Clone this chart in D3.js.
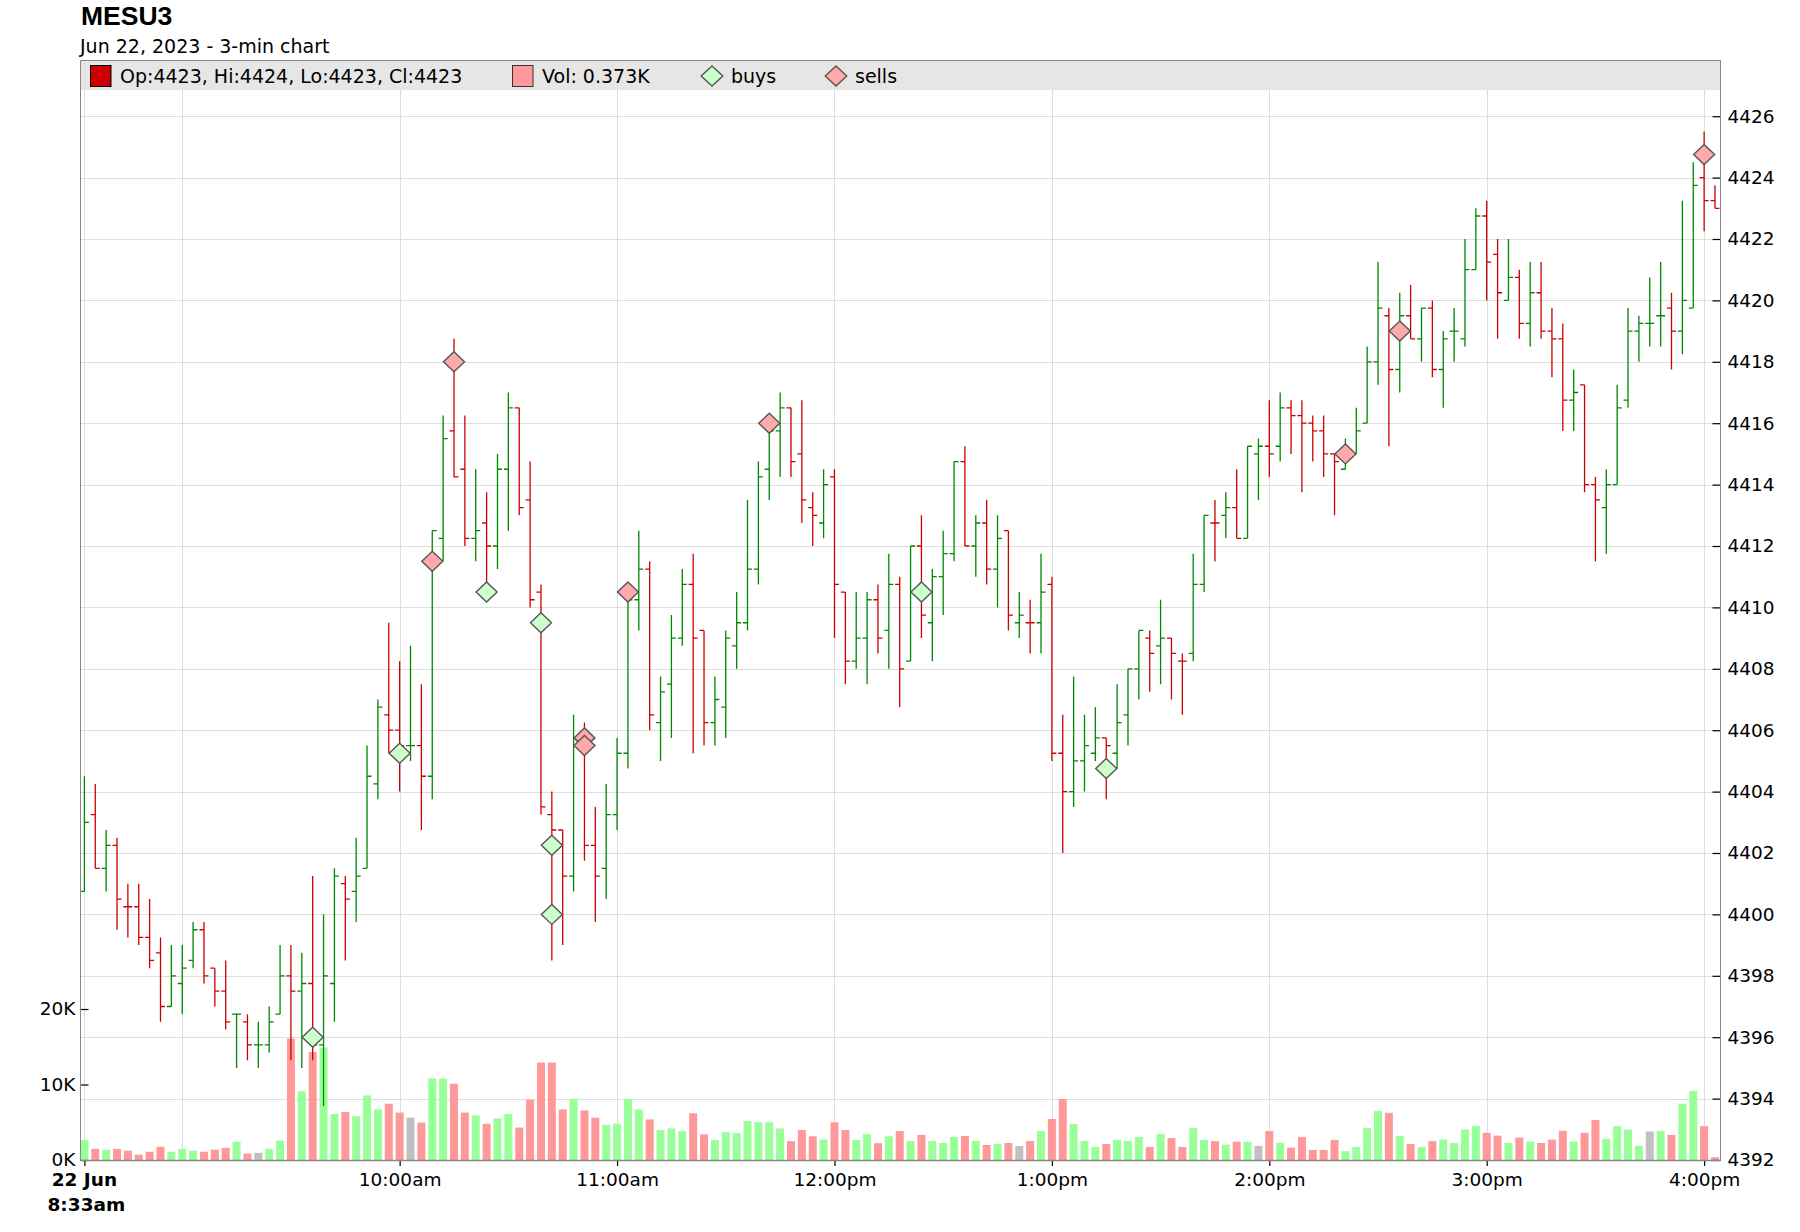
<!DOCTYPE html>
<html>
<head>
<meta charset="utf-8">
<script src="https://cdn.jsdelivr.net/npm/d3@7/dist/d3.min.js"></script>
<style>
  body { margin: 0; background: #fff; }
  text { fill: #000; }
</style>
</head>
<body>
<svg id="chart" width="1800" height="1232" font-family="DejaVu Sans, sans-serif"></svg>
<script>
// MESU3, 3-min bars, 22 Jun 2023, 8:33am .. 4:03pm
var symbol = 'MESU3';
var subtitle = 'Jun 22, 2023 - 3-min chart';
var sessionStart = new Date(2023, 5, 22, 8, 33);
var barMinutes = 3;

var opens = [
  4400.75,4403.25,4401.5,4402.25,4400.25,4400.25,4399.25,4398.75,4397,4397.75,
  4398.5,4399.5,4398.25,4397.5,4396.75,4396.5,4395.75,4395.75,4396.75,4398,
  4397.5,4397.75,4395.75,4397.75,4401,4400.75,4401.5,4404.25,4406.5,4406,
  4405.5,4405.5,4404.5,4412.25,4415.75,4414.5,4412.25,4412.75,4412,4414.5,
  4416.5,4413.5,4410.5,4403.25,4402.75,4401.25,4405.75,4402.25,4401.5,4403.25,
  4405.25,4410.25,4411.25,4406.25,4407.5,4409,4410.75,4409.25,4406.25,4406.75,
  4408.75,4409.5,4411.25,4414.5,4415.75,4416.5,4415,4413.25,4412.75,4414.25,
  4410.5,4408.25,4409,4410.25,4409.25,4410.75,4408.25,4412,4409.5,4411,
  4411.75,4414.75,4412,4412.75,4411.25,4412.5,4409.5,4409.5,4409.5,4410.75,
  4405.25,4404,4405,4405.25,4405.75,4405.25,4406.5,4408,4409,4408.75,
  4409,4408.25,4408.5,4410.75,4412.75,4413,4413.25,4412.25,4415,4415.25,
  4415.25,4416.5,4416.25,4416,4415.75,4415,4414.5,4415,4416,4418,
  4419.5,4417.75,4419.5,4418.75,4419.75,4417.75,4419,4418.75,4421,4422.75,
  4421.5,4420,4420.75,4419.25,4420.25,4419,4418.75,4416.75,4417.25,4414,
  4413.25,4414,4416.75,4419,4419.25,4419.5,4419.75,4419,4419.75,4424,
  4423.25];

var highs = [
  4404.5,4404.25,4402.75,4402.5,4401,4401,4400.5,4399.25,4399,4399,
  4399.75,4399.75,4398.25,4398.5,4396.75,4396.75,4396.5,4397,4399,4399,
  4398.75,4401.25,4400,4401.5,4401.25,4402.5,4405.5,4407,4409.5,4408.25,
  4408.75,4407.5,4412.5,4416.25,4418.75,4416.25,4414.5,4413.75,4415,4417,
  4416.5,4414.75,4410.75,4404,4402.75,4406.5,4406.25,4403.5,4404.25,4405.75,
  4410.25,4412.5,4411.5,4407.75,4409.75,4411.25,4411.75,4409.25,4407.75,4409.25,
  4410.5,4413.5,4414.75,4416,4417,4416.5,4416.75,4413.75,4414.5,4414.5,
  4410.5,4410.5,4410.5,4410.75,4411.75,4411,4412,4413,4411.25,4412.5,
  4414.75,4415.25,4413,4413.5,4413,4412.5,4410.5,4410.25,4411.75,4411,
  4406.5,4407.75,4406.5,4406.75,4405.75,4407.5,4408,4409.25,4409.25,4410.25,
  4409,4408.5,4411.75,4413,4413.5,4413.75,4414.5,4415.25,4415.5,4416.75,
  4417,4416.75,4416.75,4416.25,4416.25,4415,4415.5,4416.5,4418.5,4421.25,
  4419.75,4420.25,4420.5,4419.75,4420,4419,4419.75,4422,4423,4423.25,
  4422,4422,4421,4421.25,4421.25,4419.75,4419.25,4417.75,4417.25,4414.25,
  4414.5,4417.25,4419.75,4419.5,4420.75,4421.25,4420.25,4423.25,4424.5,4425.5,
  4423.75];

var lows = [
  4400.75,4401.5,4400.75,4399.5,4399.25,4399,4398.25,4396.5,4397,4396.75,
  4398.25,4397.75,4397,4396.25,4395,4395.25,4395,4395.5,4396.75,4395.25,
  4395,4395.25,4393.75,4396.5,4398.5,4399.75,4401.5,4403.75,4405.25,4404,
  4405,4402.75,4403.75,4411.5,4414.25,4412,4411.5,4410.75,4411.25,4412.5,
  4413,4410,4403.25,4398.5,4399,4400.75,4401.75,4399.75,4400.5,4402.75,
  4404.75,4409.25,4406,4405,4405.75,4408.75,4405.25,4405.5,4405.5,4405.75,
  4408,4409.25,4410.75,4413.5,4414.25,4414.25,4412.75,4412,4412.25,4409,
  4407.5,4408,4407.5,4408.5,4408,4406.75,4408.25,4409,4408.25,4409.75,
  4411.5,4412,4411,4410.75,4410,4409.25,4409,4408.5,4408.5,4405,
  4402,4403.5,4404,4405,4403.75,4404.75,4405.5,4407,4407.25,4407.5,
  4407,4406.5,4408.25,4410.5,4411.5,4412.25,4412.25,4412.25,4413.5,4414.25,
  4414.75,4415,4413.75,4414.75,4414.25,4413,4414.5,4415,4416,4417.25,
  4415.25,4417,4418.75,4418,4417.5,4416.5,4418,4418.5,4421,4420,
  4418.75,4420,4418.75,4418.5,4418.75,4417.5,4415.75,4415.75,4413.75,4411.5,
  4411.75,4414,4416.5,4418,4418.5,4418.5,4417.75,4418.25,4419.75,4422.25,
  4423];

var closes = [
  4403,4401.5,4402.25,4400.5,4400.25,4399.25,4398.5,4397,4398,4398.25,
  4399.5,4398,4397.5,4396.5,4396.75,4395.75,4395.75,4396.5,4398,4397.5,
  4397.75,4395.75,4398,4401.25,4400.5,4401.25,4404.5,4406.75,4406,4405.5,
  4405.5,4404.5,4412.5,4415.5,4414.25,4412.25,4412.5,4412,4414.5,4416.5,
  4413.25,4410.25,4403.5,4402.75,4401.25,4405.75,4402.25,4401.25,4403.25,4405.25,
  4410.25,4411.25,4406.5,4407.25,4409,4410.75,4409,4406.25,4407,4409,
  4409.5,4411.25,4414.25,4415.75,4416.5,4414.75,4413.5,4413,4414,4410.75,
  4408.25,4409,4410.25,4409,4410.75,4408,4412,4409.75,4411,4411.75,
  4414.75,4412,4412.75,4411.25,4412.25,4409.75,4409.75,4409.5,4410.5,4405.25,
  4404,4405,4405.5,4405.75,4405.5,4406.25,4408,4409.25,4408.5,4409,
  4408.5,4408.25,4410.75,4413,4412.75,4413.25,4412.25,4415.25,4415.25,4415,
  4416.5,4416.25,4416,4415.75,4415,4414.75,4415,4415.75,4418,4419.75,
  4417.75,4419.5,4418.75,4419.75,4417.75,4418.75,4419,4421,4422.75,4421.25,
  4420.25,4420.75,4419.25,4420.25,4419,4418.75,4416.75,4417,4414,4413.5,
  4414,4416.5,4419,4419.25,4419.25,4419.5,4419,4420,4423.75,4423.25,
  4423];

// volume in thousands of contracts
var volumes = [
  2.65,1.47,1.37,1.47,1.23,0.71,1.09,1.75,1.09,1.47,
  1.23,1.09,1.37,1.61,2.42,0.85,0.95,1.47,2.56,16.07,
  9.1,14.3,14.9,6.1,6.35,5.8,8.55,6.7,7.45,6.28,
  5.6,4.96,10.8,10.8,10.1,6.28,5.9,4.8,5.5,6.1,
  4.3,8.0,12.9,12.9,6.7,8.1,6.57,5.6,4.67,4.8,
  8.1,6.7,5.37,3.97,4.18,3.83,6.2,3.41,2.65,3.69,
  3.55,5.16,5.0,5.0,4.18,2.5,3.97,3.14,2.72,5.0,
  3.97,2.65,3.41,2.23,3.14,3.83,2.52,3.31,2.52,2.25,
  3.05,3.18,2.52,1.99,2.12,2.25,1.86,2.52,3.84,5.43,
  8.08,4.77,2.52,1.72,2.12,2.65,2.52,3.05,1.72,3.45,
  2.9,1.72,4.22,2.66,2.5,2.03,2.42,2.42,1.88,3.83,
  2.27,1.64,3.05,1.33,1.33,2.66,1.17,1.72,4.22,6.48,
  6.25,3.2,2.11,1.72,2.5,2.7,2.25,4.04,4.49,3.6,
  3.23,2.25,2.96,2.43,2.25,2.7,3.86,2.43,3.6,5.3,
  2.79,4.49,4.04,1.89,3.77,3.86,3.32,7.46,9.16,4.49,
  0.373];

// trade markers: bar index, price
var buyBars   = [21, 29, 37, 42, 43, 43, 77, 94];
var buyPrices = [4396, 4405.25, 4410.5, 4409.5, 4402.25, 4400, 4410.5, 4404.75];
var sellBars   = [32, 34, 46, 46, 50, 63, 116, 121, 149];
var sellPrices = [4411.5, 4418, 4405.75, 4405.5, 4410.5, 4416, 4415, 4419, 4424.75];

var priceTicks = [4392,4394,4396,4398,4400,4402,4404,4406,4408,4410,4412,4414,4416,4418,4420,4422,4424,4426];
var volTicks = [0, 10, 20];
var hourTicks = [9, 10, 11, 12, 13, 14, 15, 16];
var hourLabels = ['', '10:00am', '11:00am', '12:00pm', '1:00pm', '2:00pm', '3:00pm', '4:00pm'];

var green = '#008800', red = '#cc0000';
var volGreen = '#99ff99', volRed = '#ff9999', volFlat = '#c0c0c0';

var svg = d3.select('#chart');
// plot box (note: "top" is taken by window.top, so prefix everything)
var plotL = 80.5, plotR = 1720.5, plotT = 60.5, plotB = 1160;

var n = closes.length;
var bars = d3.range(n).map(function(i) {
  var prev = i > 0 ? closes[i - 1] : opens[i];
  return {
    i: i,
    t: d3.timeMinute.offset(sessionStart, barMinutes * i),
    o: opens[i], h: highs[i], l: lows[i], c: closes[i], v: volumes[i],
    up: closes[i] >= prev,
    vdir: i == 0 ? 1 : Math.sign(closes[i] - prev)
  };
});

var x = d3.scaleTime()
  .domain([bars[0].t, bars[n - 1].t])
  .range([84.4, 1715]);
var y = d3.scaleLinear().domain([4392, 4426]).range([plotB, 116.2]);
var yv = d3.scaleLinear().domain([0, 20]).range([plotB, 1009]);

function hourTime(h) { return new Date(2023, 5, 22, h, 0); }

// legend band
svg.append('rect').attr('x', plotL).attr('y', plotT).attr('width', plotR - plotL).attr('height', 29.5)
  .attr('fill', '#e6e6e6');

// grid
var grid = svg.append('g').attr('stroke', '#dddddd').attr('stroke-width', 1);
grid.selectAll('line.h').data(priceTicks.slice(1)).enter().append('line')
  .attr('x1', plotL).attr('x2', plotR)
  .attr('y1', function(d) { return Math.round(y(d)) + 0.5; })
  .attr('y2', function(d) { return Math.round(y(d)) + 0.5; });
var gridTimes = [bars[0].t].concat(hourTicks.map(hourTime));
grid.selectAll('line.v').data(gridTimes).enter().append('line')
  .attr('y1', 90).attr('y2', plotB)
  .attr('x1', function(d) { return Math.round(x(d)) + 0.5; })
  .attr('x2', function(d) { return Math.round(x(d)) + 0.5; });

// volume
svg.append('g').selectAll('rect').data(bars).enter().append('rect')
  .attr('x', function(d) { return x(d.t) - 4; })
  .attr('width', 8)
  .attr('y', function(d) { return yv(d.v); })
  .attr('height', function(d) { return plotB - yv(d.v); })
  .attr('fill', function(d) { return d.vdir > 0 ? volGreen : (d.vdir < 0 ? volRed : volFlat); });

// OHLC bars
svg.append('g').attr('fill', 'none').attr('stroke-width', 1.3)
  .selectAll('path').data(bars).enter().append('path')
  .attr('stroke', function(d) { return d.up ? green : red; })
  .attr('d', function(d) {
    var cx = x(d.t);
    return 'M' + cx + ',' + y(d.h) + 'V' + y(d.l) +
      'M' + (cx - 4.5) + ',' + y(d.o) + 'H' + cx +
      'M' + cx + ',' + y(d.c) + 'H' + (cx + 4.5);
  });

function diamond(cx, cy, hw, hh) {
  return 'M' + cx + ',' + (cy - hh) + 'L' + (cx + hw) + ',' + cy +
    'L' + cx + ',' + (cy + hh) + 'L' + (cx - hw) + ',' + cy + 'Z';
}

var marks = svg.append('g').attr('stroke', '#555').attr('stroke-width', 1.4);
marks.selectAll('path.buy').data(buyBars).enter().append('path')
  .attr('fill', '#ccffcc')
  .attr('d', function(b, k) { return diamond(x(bars[b].t), y(buyPrices[k]), 10.5, 10); });
marks.selectAll('path.sell').data(sellBars).enter().append('path')
  .attr('fill', '#ffaaaa')
  .attr('d', function(b, k) { return diamond(x(bars[b].t), y(sellPrices[k]), 10.5, 10); });

// right price axis, ticks pointing inward
var yAxis = svg.append('g').attr('transform', 'translate(' + plotR + ',0)')
  .call(d3.axisRight(y).tickValues(priceTicks).tickSize(-8).tickPadding(7).tickFormat(d3.format('d')));
// left volume axis
var vAxis = svg.append('g').attr('transform', 'translate(' + plotL + ',0)')
  .call(d3.axisLeft(yv).tickValues(volTicks).tickSize(-8).tickPadding(5)
    .tickFormat(function(d) { return d + 'K'; }));
// bottom time axis
var xAxis = svg.append('g').attr('transform', 'translate(0,' + plotB + ')')
  .call(d3.axisBottom(x).tickValues([bars[0].t].concat(hourTicks.slice(1).map(hourTime)))
    .tickSize(6).tickPadding(7)
    .tickFormat(function(d, k) { return k == 0 ? '' : hourLabels[k]; }));

[yAxis, vAxis, xAxis].forEach(function(a) {
  a.attr('font-family', null).attr('font-size', 18.5);
  a.select('.domain').remove();
  a.selectAll('.tick line').attr('stroke', '#000').attr('stroke-width', 1.2);
  a.selectAll('text').attr('fill', '#000');
});
xAxis.selectAll('text').attr('dy', null).attr('y', 26);

// first date label, two bold lines
var first = svg.append('text').attr('x', x(bars[0].t)).attr('y', 1186)
  .attr('text-anchor', 'middle').attr('font-size', 18.5).attr('font-weight', 'bold');
first.append('tspan').attr('x', x(bars[0].t)).text('22 Jun');
first.append('tspan').attr('x', x(bars[0].t) + 2).attr('dy', 25).text(d3.timeFormat('%-I:%M')(bars[0].t) + 'am');

// frame
svg.append('path')
  .attr('d', 'M' + plotL + ',' + plotB + 'V' + plotT + 'H' + plotR + 'V' + plotB)
  .attr('fill', 'none').attr('stroke', '#888').attr('stroke-width', 1);
svg.append('line').attr('x1', plotL).attr('x2', plotR).attr('y1', plotB + 0.5).attr('y2', plotB + 0.5)
  .attr('stroke', '#888').attr('stroke-width', 1.5);

// title
svg.append('text').attr('x', 81).attr('y', 25).text(symbol)
  .style('font-family', '"Liberation Sans", Arial, sans-serif').attr('font-weight', 'bold').attr('font-size', 26.5);
svg.append('text').attr('x', 80).attr('y', 53).text(subtitle).attr('font-size', 19);

// legend
var last = bars[n - 1], f0 = d3.format('.0f');
var lg = svg.append('g').attr('font-size', 19);
lg.append('rect').attr('x', 90.5).attr('y', 65.5).attr('width', 20.5).attr('height', 21)
  .attr('fill', red).attr('stroke', '#000');
lg.append('text').attr('x', 120).attr('y', 83)
  .text('Op:' + f0(last.o) + ', Hi:' + f0(last.h) + ', Lo:' + f0(last.l) + ', Cl:' + f0(last.c));
lg.append('rect').attr('x', 512.5).attr('y', 65.5).attr('width', 20.5).attr('height', 21)
  .attr('fill', volRed).attr('stroke', '#333');
lg.append('text').attr('x', 542).attr('y', 83).text('Vol: ' + last.v + 'K');
lg.append('path').attr('d', diamond(712, 76, 10.8, 10)).attr('fill', '#ccffcc').attr('stroke', '#555').attr('stroke-width', 1.4);
lg.append('text').attr('x', 731).attr('y', 83).text('buys');
lg.append('path').attr('d', diamond(836, 76, 10.8, 10)).attr('fill', '#ffaaaa').attr('stroke', '#555').attr('stroke-width', 1.4);
lg.append('text').attr('x', 855).attr('y', 83).text('sells');
</script>
</body>
</html>
